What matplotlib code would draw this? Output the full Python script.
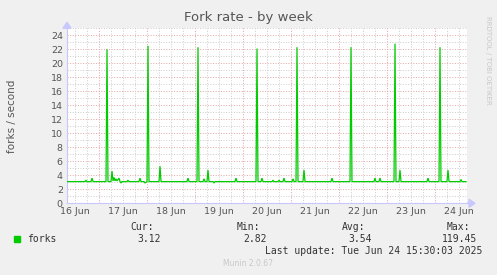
import matplotlib
matplotlib.use("Agg")
import matplotlib.pyplot as plt
from matplotlib.ticker import FixedLocator

# Hours since 16 Jun 00:00 and fork rate values (key points of the series)
hours = [8, 17, 17.5, 18, 20, 20.5, 21,
         27.5, 28, 28.5, 30, 30.5, 31, 31.5, 32, 32.5, 33, 34, 34.5, 35, 35.5,
         38, 38.5, 39, 44, 44.5, 45, 46.5, 47, 48, 48.5, 49, 54, 54.5, 55,
         68, 68.5, 69, 73, 73.5, 74, 76, 76.5, 77, 78, 78.5, 79, 81, 81.5, 82,
         92, 92.5, 93, 102.5, 103, 103.5, 105, 105.5, 106,
         110.5, 111, 111.5, 113.5, 114, 114.5, 116, 116.5, 117,
         120.5, 121, 121.5, 122.5, 123, 123.5, 126, 126.5, 127,
         140, 140.5, 141, 149.5, 150, 150.5, 161.5, 162, 162.5, 164, 164.5, 165,
         171.5, 172, 172.5, 174, 174.5, 175, 188, 188.5, 189,
         194, 194.5, 195, 198, 198.5, 199, 204.5, 205, 205.5, 207.5]
values = [3.1, 3.1, 3.3, 3.1, 3.1, 3.6, 3.1,
          3.1, 22.0, 3.1, 3.1, 4.6, 3.2, 3.7, 3.2, 3.5, 3.2, 3.6, 3.1, 2.9, 3.1,
          3.1, 3.3, 3.1, 3.1, 3.6, 3.1, 3.1, 2.9, 3.1, 22.5, 3.1, 3.1, 5.3, 3.1,
          3.1, 3.6, 3.1, 3.1, 22.3, 3.1, 3.1, 3.5, 3.1, 3.1, 4.75, 3.1, 3.1, 2.9, 3.1,
          3.1, 3.6, 3.1, 3.1, 22.1, 3.1, 3.1, 3.6, 3.1,
          3.1, 3.3, 3.1, 3.1, 3.3, 3.1, 3.1, 3.6, 3.1,
          3.1, 3.5, 3.1, 3.1, 22.3, 3.1, 3.1, 4.75, 3.1,
          3.1, 3.6, 3.1, 3.1, 22.3, 3.1, 3.1, 3.6, 3.1, 3.1, 3.6, 3.1,
          3.1, 22.8, 3.1, 3.1, 4.75, 3.1, 3.1, 3.6, 3.1,
          3.1, 22.3, 3.1, 3.1, 4.75, 3.1, 3.1, 3.4, 3.1, 3.1]

day_label_hours = [12, 36, 60, 84, 108, 132, 156, 180, 204]
day_labels = ["16 Jun", "17 Jun", "18 Jun", "19 Jun", "20 Jun",
              "21 Jun", "22 Jun", "23 Jun", "24 Jun"]
yticks = [0, 2, 4, 6, 8, 10, 12, 14, 16, 18, 20, 22, 24]

legend_name = "forks"
stat_names = ["Cur:", "Min:", "Avg:", "Max:"]
stat_values = ["3.12", "2.82", "3.54", "119.45"]

W, H = 497, 275
fig = plt.figure(figsize=(W / 100, H / 100), dpi=100, facecolor="#F0F0F0")
L, R, T, B = 67, 467, 28.3, 203.3
ax = fig.add_axes([L / W, 1 - B / H, (R - L) / W, (B - T) / H])
ax.set_facecolor("white")
ax.set_xlim(8, 208)
ax.set_ylim(0, 25)

tcol = "#555555"
major_col = "#E4A8A8"
minor_col = "#CFCFCF"
dots = (0, (1, 1.6))
for yv in range(1, 26):
    col = major_col if yv % 2 == 0 else minor_col
    ax.axhline(yv, color=col, lw=0.72, ls=dots, zorder=1)
for xv in range(12, 208, 6):
    col = major_col if xv % 24 == 0 else minor_col
    ax.axvline(xv, color=col, lw=0.72, ls=dots, zorder=1)

ax.plot(hours, values, color="#00CC00", lw=0.9, zorder=3, solid_joinstyle="miter")

for s in ["top", "right"]:
    ax.spines[s].set_visible(False)
for s in ["left", "bottom"]:
    ax.spines[s].set_color("#C8C8FF")
    ax.spines[s].set_linewidth(0.8)

ax.yaxis.set_major_locator(FixedLocator(yticks))
ax.set_yticklabels([str(v) for v in yticks])
ax.xaxis.set_major_locator(FixedLocator(day_label_hours))
ax.set_xticklabels(day_labels)
ax.tick_params(axis="both", length=0, labelsize=6.8, colors=tcol, pad=3)

# arrows on axes
fig.patches.append(matplotlib.patches.FancyArrow(
    R / W, 1 - B / H, 8 / W, 0, width=0, head_width=8 / H, head_length=6 / W,
    length_includes_head=True, color="#C8C8FF", transform=fig.transFigure))
fig.patches.append(matplotlib.patches.FancyArrow(
    L / W, 1 - T / H, 0, 6 / H, width=0, head_width=8 / W, head_length=6 / H,
    length_includes_head=True, color="#C8C8FF", transform=fig.transFigure))

fig.text(248 / W, 1 - 18 / H, "Fork rate - by week", ha="center", va="center",
         fontsize=9.5, color=tcol)
fig.text(12 / W, 1 - 116 / H, "forks / second", rotation=90, ha="center",
         va="center", fontsize=7.5, color=tcol)
fig.text(488 / W, 1 - 60 / H, "RRDTOOL / TOBI OETIKER", rotation=270, ha="center",
         va="center", fontsize=5, color="#C8C8C8")

mono = "DejaVu Sans Mono"
fig.patches.append(matplotlib.patches.Rectangle(
    (14 / W, 1 - 242 / H), 6 / W, 6 / H, color="#00CC00", transform=fig.transFigure))
fig.text(27 / W, 1 - 239 / H, legend_name, ha="left", va="center",
         fontsize=7, family=mono, color="#333333")
hdr_x = [154, 260, 365, 470]
val_x = [161, 267, 372, 477]
for i in range(4):
    fig.text(hdr_x[i] / W, 1 - 227.5 / H, stat_names[i], ha="right", va="center",
             fontsize=7, family=mono, color="#333333")
    fig.text(val_x[i] / W, 1 - 239 / H, stat_values[i], ha="right", va="center",
             fontsize=7, family=mono, color="#333333")
fig.text(482.5 / W, 1 - 251.5 / H, "Last update: Tue Jun 24 15:30:03 2025",
         ha="right", va="center", fontsize=7, family=mono, color="#333333")
fig.text(248 / W, 1 - 264 / H, "Munin 2.0.67", ha="center", va="center",
         fontsize=5.5, color="#C8C8C8")

fig.savefig("out.png", dpi=100, facecolor=fig.get_facecolor())
